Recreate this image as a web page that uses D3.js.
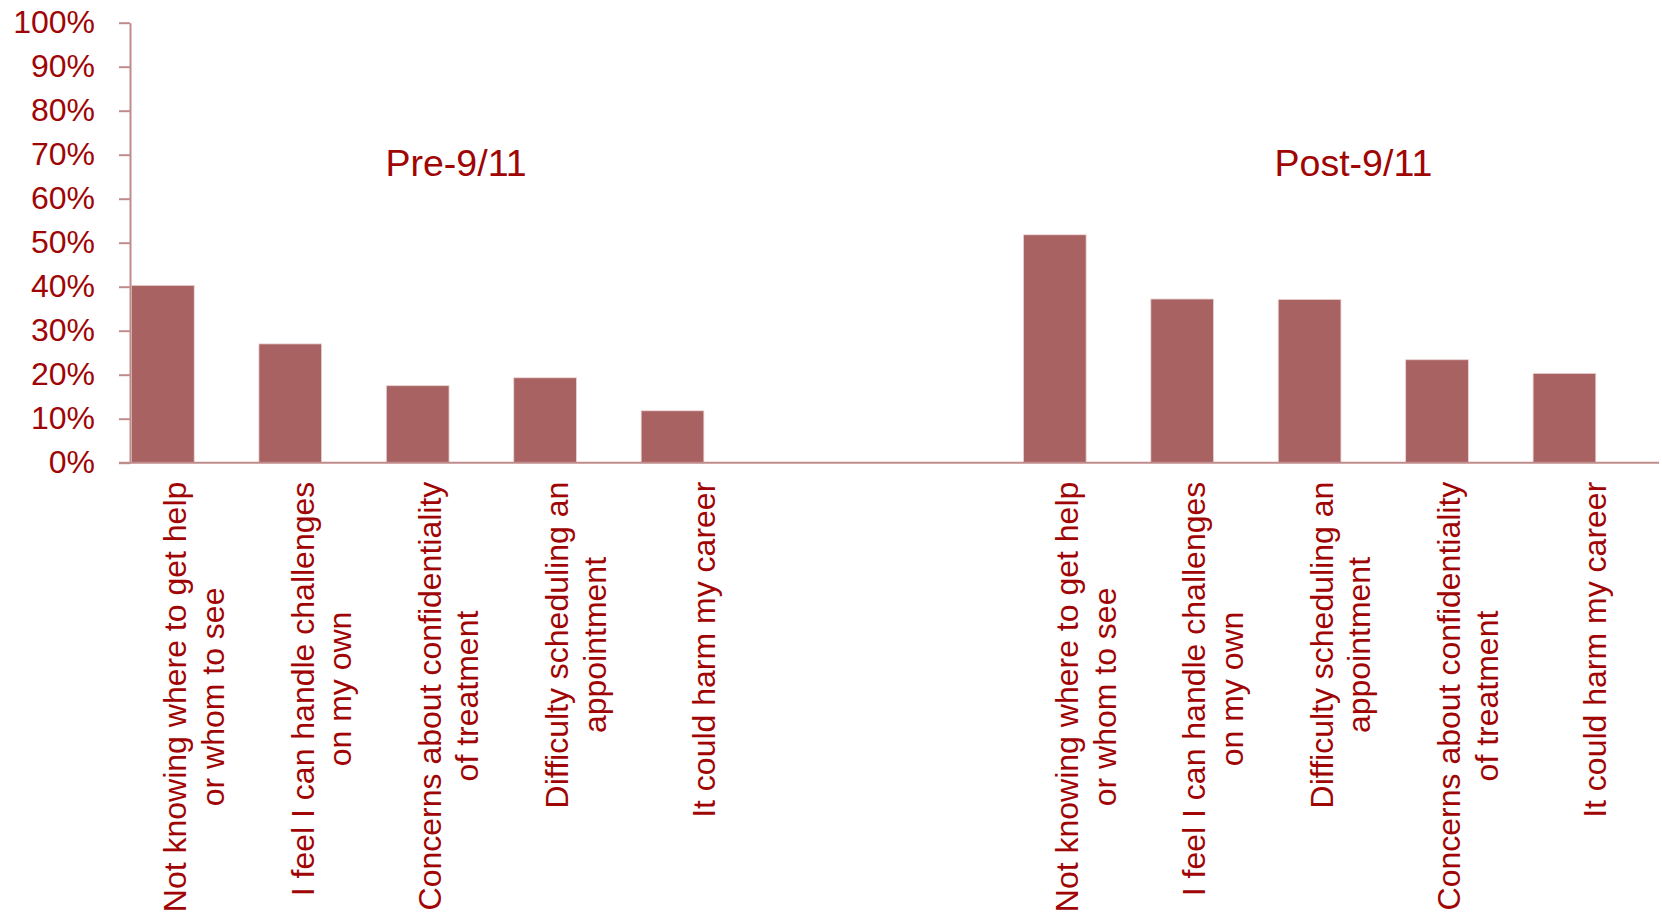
<!DOCTYPE html>
<html>
<head>
<meta charset="utf-8">
<script src="https://cdn.jsdelivr.net/npm/d3@7"></script>
<style>
  html, body { margin: 0; padding: 0; background: #ffffff; }
  svg { display: block; }
  text { font-family: "Liberation Sans", Arial, sans-serif; }
</style>
</head>
<body>
<svg id="chart" width="1662" height="913"></svg>
<script>
// ---- Data ----
const groups = ["Pre-9/11", "Post-9/11"];
const preLabels = [
  ["Not knowing where to get help", "or whom to see"],
  ["I feel I can handle challenges", "on my own"],
  ["Concerns about confidentiality", "of treatment"],
  ["Difficulty scheduling an", "appointment"],
  ["It could harm my career"]
];
const preValues = [0.403, 0.270, 0.175, 0.193, 0.118];
const postLabels = [
  ["Not knowing where to get help", "or whom to see"],
  ["I feel I can handle challenges", "on my own"],
  ["Difficulty scheduling an", "appointment"],
  ["Concerns about confidentiality", "of treatment"],
  ["It could harm my career"]
];
const postValues = [0.518, 0.372, 0.371, 0.234, 0.203];
const yTicks = [0, 0.1, 0.2, 0.3, 0.4, 0.5, 0.6, 0.7, 0.8, 0.9, 1.0];
const gapSlots = 2;

// ---- Build category list ----
const rows = [];
preLabels.forEach((l, i) => rows.push({ key: "pre" + i, group: groups[0], lines: l, value: preValues[i] }));
for (let g = 0; g < gapSlots; g++) rows.push({ key: "gap" + g, group: null, lines: [], value: null });
postLabels.forEach((l, i) => rows.push({ key: "post" + i, group: groups[1], lines: l, value: postValues[i] }));

// ---- Layout ----
const plot = { left: 130, right: 1659, top: 22.7, bottom: 462.7 };
const textColor = "#a00505";
const barColor = "#a86262";
const axisColor = "#c08b8b";
const titleOffsets = [7.5, 13];

const svg = d3.select("#chart");

const x = d3.scaleBand()
  .domain(rows.map(d => d.key))
  .range([plot.left, plot.right])
  .padding(0);

const y = d3.scaleLinear()
  .domain([0, 1])
  .range([plot.bottom, plot.top]);

// Bars
svg.append("g").selectAll("rect")
  .data(rows.filter(d => d.value !== null))
  .join("rect")
  .attr("x", d => x(d.key) + 1.5)
  .attr("y", d => y(d.value))
  .attr("width", x.bandwidth() / 2 - 1)
  .attr("height", d => y(0) - y(d.value))
  .attr("fill", barColor)
  .attr("stroke", "#ecd3d3")
  .attr("stroke-width", 0.8);

// Y axis
const yAxis = d3.axisLeft(y)
  .tickValues(yTicks)
  .tickFormat(d3.format(".0%"))
  .tickSize(11)
  .tickSizeOuter(0)
  .tickPadding(24);

const gy = svg.append("g")
  .attr("transform", `translate(${plot.left},0)`)
  .call(yAxis);
gy.select(".domain").attr("stroke", axisColor).attr("stroke-width", 2);
gy.selectAll(".tick line").attr("stroke", axisColor).attr("stroke-width", 2);
gy.selectAll(".tick text")
  .attr("fill", textColor)
  .style("font-size", "32px")
  .style("font-family", "'Liberation Sans', Arial, sans-serif");

// X axis baseline
const xAxis = d3.axisBottom(x).tickSize(0).tickFormat("").tickSizeOuter(0);
const gx = svg.append("g")
  .attr("transform", `translate(0,${plot.bottom})`)
  .call(xAxis);
gx.select(".domain")
  .attr("d", `M${plot.left - 11},0H${plot.right}`)
  .attr("stroke", axisColor).attr("stroke-width", 2);

// Category labels (rotated, multi-line, centered within block)
const fontSize = 32, lineH = 37.5, labelTop = plot.bottom + 19;
const labelG = svg.append("g");
rows.filter(d => d.lines.length).forEach(d => {
  const cx = x(d.key) + x.bandwidth() / 2;
  const g = labelG.append("g")
    .attr("transform", `translate(${cx},${labelTop}) rotate(-90)`);
  const texts = d.lines.map((line, i) =>
    g.append("text")
      .attr("fill", textColor)
      .style("font-size", fontSize + "px")
      .attr("text-anchor", "middle")
      .attr("dy", "0.35em")
      .attr("y", (i - (d.lines.length - 1) / 2) * lineH)
      .text(line));
  const maxW = d3.max(texts, t => t.node().getComputedTextLength());
  texts.forEach(t => t.attr("x", -maxW / 2));
});

// Group titles
const groupCenters = groups.map(gname => {
  const keys = rows.filter(r => r.group === gname).map(r => r.key);
  return (x(keys[0]) + x(keys[keys.length - 1]) + x.bandwidth()) / 2;
});
svg.append("g").selectAll("text")
  .data(groups)
  .join("text")
  .attr("x", (d, i) => groupCenters[i] + titleOffsets[i])
  .attr("y", 176)
  .attr("text-anchor", "middle")
  .attr("fill", textColor)
  .style("font-size", "37.5px")
  .text(d => d);
</script>
</body>
</html>
